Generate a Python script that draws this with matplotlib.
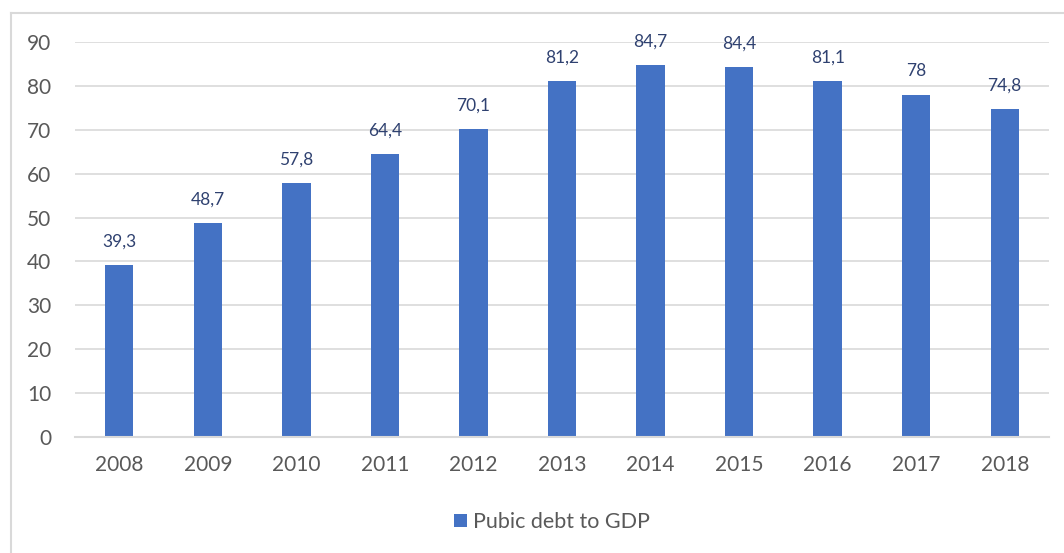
import matplotlib
matplotlib.use("Agg")
import matplotlib.pyplot as plt
from matplotlib.lines import Line2D

years = ["2008", "2009", "2010", "2011", "2012", "2013", "2014", "2015", "2016", "2017", "2018"]
values = [39.3, 48.7, 57.8, 64.4, 70.1, 81.2, 84.7, 84.4, 81.1, 78.0, 74.8]
labels = ["39,3", "48,7", "57,8", "64,4", "70,1", "81,2", "84,7", "84,4", "81,1", "78", "74,8"]
series_name = "Pubic debt to GDP"
yticks = [0, 10, 20, 30, 40, 50, 60, 70, 80, 90]

W, H = 1064, 553
fig = plt.figure(figsize=(W / 100, H / 100), dpi=100)
plt.rcParams['font.family'] = ['Lato', 'DejaVu Sans']

# outer chart border (left and top visible)
fig.add_artist(Line2D([11 / W, 11 / W], [0, 1 - 13 / H], color='#D9D9D9', lw=1.5))
fig.add_artist(Line2D([11 / W, 1], [1 - 13 / H, 1 - 13 / H], color='#D9D9D9', lw=1.5))

x0, x1 = 75, 1049
y90, y0 = 42, 437
ax = fig.add_axes([x0 / W, 1 - y0 / H, (x1 - x0) / W, (y0 - y90) / H])
xs = list(range(len(years)))
bars = ax.bar(xs, values, width=0.32, color='#4472C4', zorder=3, label=series_name)
ax.set_xlim(-0.5, len(years) - 0.5)
ax.set_ylim(0, 90)
ax.set_yticks(yticks)
ax.set_xticks(xs)
ax.set_xticklabels(years)
ax.grid(axis='y', color='#D9D9D9', lw=1.2, zorder=0)
for s in ['top', 'right', 'left']:
    ax.spines[s].set_visible(False)
ax.spines['bottom'].set_color('#D9D9D9')
ax.spines['bottom'].set_linewidth(1.5)
ax.spines['bottom'].set_zorder(4)
ax.tick_params(axis='both', length=0, labelsize=15, colors='#595959')
ax.tick_params(axis='x', pad=13)
ax.tick_params(axis='y', pad=17)

for x, v, t in zip(xs, values, labels):
    ax.annotate(t, (x, v), xytext=(0, 11), textcoords='offset points',
                ha='center', va='bottom', fontsize=12.5, color='#2F4170')

fig.legend(handles=[bars], labels=[series_name], loc='center',
           bbox_to_anchor=(552 / W, 1 - 522 / H), frameon=False,
           fontsize=15.5, handlelength=0.6, handleheight=0.6, handletextpad=0.3,
           labelcolor='#595959')

fig.savefig("out.png", dpi=100)
